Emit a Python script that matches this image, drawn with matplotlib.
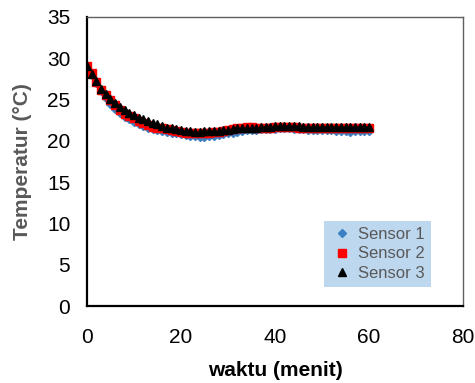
import matplotlib
matplotlib.use("Agg")
import matplotlib.pyplot as plt

t = list(range(0, 61))
sensor1 = [29.0, 28.0, 27.0, 26.0, 25.2, 24.5, 23.9, 23.4, 22.9, 22.6, 22.3, 22.0, 21.8, 21.6, 21.4, 21.3,
           21.2, 21.1, 21.0, 20.9, 20.8, 20.7, 20.6, 20.6, 20.5, 20.5, 20.6, 20.6, 20.7, 20.8, 20.9, 21.0,
           21.1, 21.2, 21.3, 21.3, 21.3, 21.4, 21.4, 21.4, 21.4, 21.5, 21.5, 21.5, 21.4, 21.4, 21.4, 21.3,
           21.3, 21.3, 21.3, 21.3, 21.3, 21.2, 21.2, 21.2, 21.1, 21.2, 21.2, 21.2, 21.2]
sensor2 = [29.0, 28.2, 27.1, 26.2, 25.5, 24.9, 24.3, 23.7, 23.3, 23.0, 22.7, 22.4, 22.1, 21.9, 21.7, 21.6,
           21.5, 21.4, 21.3, 21.2, 21.1, 21.0, 21.0, 20.9, 20.9, 21.0, 21.0, 21.1, 21.1, 21.2, 21.3, 21.4,
           21.5, 21.6, 21.7, 21.7, 21.6, 21.6, 21.6, 21.6, 21.7, 21.7, 21.7, 21.7, 21.7, 21.6, 21.6, 21.6,
           21.6, 21.6, 21.6, 21.6, 21.6, 21.6, 21.5, 21.5, 21.5, 21.5, 21.5, 21.5, 21.5]
sensor3 = [29.1, 28.1, 27.2, 26.3, 25.7, 25.1, 24.6, 24.1, 23.7, 23.4, 23.1, 22.8, 22.6, 22.4, 22.2, 22.0,
           21.8, 21.6, 21.5, 21.4, 21.3, 21.2, 21.2, 21.1, 21.1, 21.2, 21.2, 21.2, 21.2, 21.3, 21.3, 21.4,
           21.5, 21.5, 21.6, 21.6, 21.6, 21.7, 21.7, 21.7, 21.8, 21.8, 21.8, 21.8, 21.8, 21.8, 21.7, 21.7,
           21.7, 21.7, 21.7, 21.7, 21.7, 21.7, 21.7, 21.7, 21.7, 21.7, 21.7, 21.7, 21.7]
labels = ["Sensor 1", "Sensor 2", "Sensor 3"]
xticks = [0, 20, 40, 60, 80]
yticks = [0, 5, 10, 15, 20, 25, 30, 35]

plt.rcParams['font.family'] = ['Liberation Sans', 'DejaVu Sans']

fig = plt.figure(figsize=(4.75, 3.83), dpi=100)
ax = fig.add_axes([0.183, 0.201, 0.792, 0.755])

ax.plot(t, sensor1, linestyle='none', marker='D', markersize=4, color='#3a7fc4', label=labels[0])
ax.plot(t, sensor2, linestyle='none', marker='s', markersize=6, color='#ff0000', label=labels[1])
ax.plot(t, sensor3, linestyle='none', marker='^', markersize=5.5, color='black', label=labels[2])

ax.set_xlim(0, 80)
ax.set_ylim(0, 35)
ax.set_xticks(xticks)
ax.set_yticks(yticks)
ax.tick_params(length=0, labelsize=15, colors='black')
ax.tick_params(axis='y', pad=12)
ax.tick_params(axis='x', pad=16)

for s in ['left', 'bottom']:
    ax.spines[s].set_linewidth(1.6)
    ax.spines[s].set_color('black')
for s in ['top', 'right']:
    ax.spines[s].set_linewidth(1.0)
    ax.spines[s].set_color('#606060')

ax.set_xlabel('waktu (menit)', fontsize=15, fontweight='bold', color='black', labelpad=10)
ax.set_ylabel('Temperatur (°C)', fontsize=15, fontweight='bold', color='#595959', labelpad=11)

leg = ax.legend(loc='lower right', bbox_to_anchor=(0.915, 0.065), frameon=True, fancybox=False,
                facecolor='#bdd7ee', edgecolor='none', framealpha=1, fontsize=12,
                handletextpad=0.3, handlelength=1.3, borderpad=0.4, labelspacing=0.25,
                borderaxespad=0)
for txt in leg.get_texts():
    txt.set_color('#595959')

fig.savefig('out.png', dpi=100)
